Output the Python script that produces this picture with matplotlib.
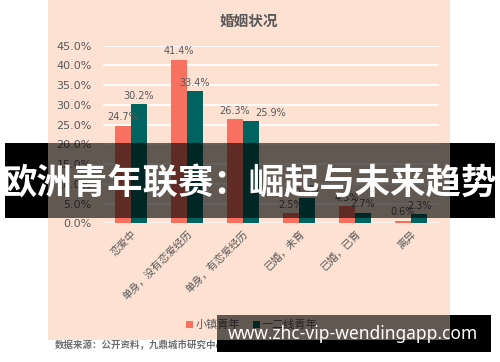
import numpy as np
import matplotlib
matplotlib.use("Agg")
from matplotlib import pyplot as plt
from matplotlib.patches import Rectangle

plt.rcParams['font.family'] = ['DejaVu Sans', 'Noto Sans CJK SC']
CJK = ['Noto Sans CJK SC', 'DejaVu Sans']

# data
categories = ["恋爱中", "单身，没有恋爱经历", "单身，有恋爱经历", "已婚，未育", "已婚，已育", "离异"]
town_youth = [24.7, 41.4, 26.3, 2.5, 4.3, 0.6]
city_youth = [30.2, 33.4, 25.9, 6.3, 2.7, 2.3]
series_names = ["小镇青年", "一二线青年"]
yticks = [0, 5, 10, 15, 20, 25, 30, 35, 40, 45]
# horizontal nudges of the value labels (points), as placed in the original
town_dx = [0, 0, 0, 0, 0, 0]
city_dx = [0, 0, 14, 0, 0, 0]

W, H = 500, 362
ORANGE = "#F87060"
TEAL = "#00635F"
PEACH = "#FDE2D3"
GRAY = "#595959"

def box(x, y, w, h):
    # pixel box (top-left origin) -> figure fraction
    return (x / W, 1 - (y + h) / H, w / W, h / H)

fig = plt.figure(figsize=(5, 3.62), dpi=100)

# peach chart area
bx = box(48, 0, 402, 340)
fig.add_artist(Rectangle(bx[:2], bx[2], bx[3], transform=fig.transFigure,
                         facecolor=PEACH, edgecolor='none', zorder=-5))

ax = fig.add_axes(box(103, 45.6, 336, 177.7))
ax.set_facecolor('none')
x = np.arange(len(categories))
bw = 0.286
b1 = ax.bar(x - bw / 2, town_youth, bw, color=ORANGE, zorder=3, label=series_names[0])
b2 = ax.bar(x + bw / 2, city_youth, bw, color=TEAL, zorder=3, label=series_names[1])
for bars, vals, dxs in ((b1, town_youth, town_dx), (b2, city_youth, city_dx)):
    for b, v, dx in zip(bars, vals, dxs):
        ax.annotate(f"{v:.1f}%", (b.get_x() + b.get_width() / 2, v), xytext=(dx, 2.5),
                    textcoords='offset points', ha='center', va='bottom',
                    fontsize=7, color=GRAY, zorder=4)

ax.set_xlim(-0.5, len(categories) - 0.5)
ax.set_ylim(0, 45)
ax.set_yticks(yticks)
ax.set_yticklabels([f"{t:.1f}%" for t in yticks], fontsize=8, color=GRAY)
ax.set_xticks(x)
ax.set_xticklabels(categories, rotation=45, ha='right', va='top', rotation_mode='anchor',
                   fontsize=7.5, color=GRAY, family=CJK)
ax.tick_params(length=0, pad=8)
ax.tick_params(axis='x', pad=4)
for s in ax.spines.values():
    s.set_visible(False)
ax.grid(axis='y', color='white', lw=1.2, zorder=0)
ax.axhline(0, color='#D9D9D9', lw=1, zorder=2)

fig.text(249 / W, 1 - 21 / H, "婚姻状况", ha='center', va='center', fontsize=10.5,
         fontweight='bold', color=GRAY, family=CJK)

leg = fig.legend(handles=[b1, b2], loc='center', bbox_to_anchor=(252 / W, 1 - 325 / H),
                 ncol=2, frameon=False, handlelength=0.6, handleheight=0.6,
                 handletextpad=0.2, columnspacing=1.2, prop={'family': CJK, 'size': 8})
for t in leg.get_texts():
    t.set_color(GRAY)

fig.text(55 / W, 1 - 345 / H, "数据来源：公开资料，九鼎城市研究中心整理", ha='left', va='center',
         fontsize=6.8, fontweight='bold', style='italic', color='#6F6F6F', family=CJK)

# banner overlays
for (xx, yy, ww, hh, a) in [(5, 143, 43, 75, 1.0), (48, 143, 402, 75, 0.61), (450, 143, 45, 75, 1.0),
                            (217, 315, 233, 25, 0.61), (217, 340, 233, 12, 1.0), (450, 315, 41, 37, 1.0)]:
    r = box(xx, yy, ww, hh)
    fig.add_artist(Rectangle(r[:2], r[2], r[3], transform=fig.transFigure,
                             facecolor='black', alpha=a, edgecolor='none', zorder=10))

fig.text(249 / W, 1 - 184 / H, "欧洲青年联赛：崛起与未来趋势", ha='center', va='center',
         fontsize=25.5, fontweight='bold', color='white', family=CJK, zorder=11)
fig.text(353 / W, 1 - 334 / H, "www.zhc-vip-wendingapp.com", ha='center', va='center',
         fontsize=12.5, fontweight='bold', color='white', family=['Noto Sans', 'DejaVu Sans'], zorder=11)

fig.savefig("out.png", dpi=100)
